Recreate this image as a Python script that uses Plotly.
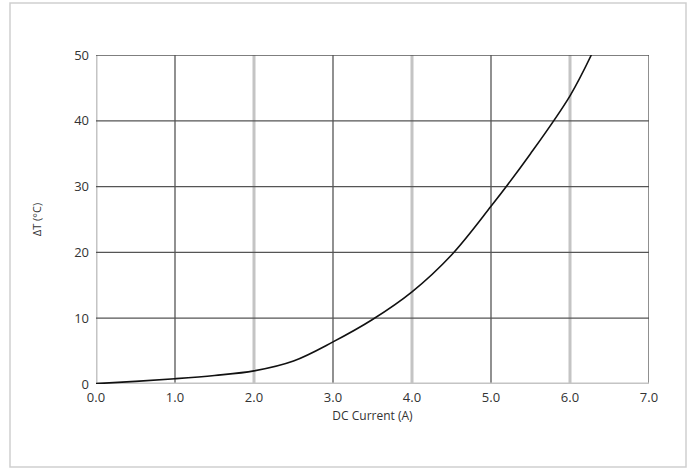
import plotly.graph_objects as go

current_a = [0.0, 0.5, 1.0, 1.5, 2.0, 2.5, 3.0, 3.5, 4.0, 4.5, 5.0, 5.5, 6.0, 6.27]
delta_t = [0.05, 0.4, 0.8, 1.3, 2.0, 3.5, 6.4, 9.8, 14.0, 19.6, 27.0, 35.0, 43.8, 50.0]

x_ticks = [0, 1, 2, 3, 4, 5, 6, 7]
y_ticks = [0, 10, 20, 30, 40, 50]
x_title = "DC Current (A)"
y_title = "ΔT (°C)"

fig = go.Figure()
fig.add_trace(go.Scatter(x=current_a, y=delta_t, mode="lines",
                         line=dict(color="#111111", width=1.6, shape="spline", smoothing=1.0),
                         hoverinfo="skip", showlegend=False))

shapes = []
for v in x_ticks:
    if v % 2 == 0:
        shapes.append(dict(type="line", xref="x", yref="y", x0=v, x1=v, y0=0, y1=50,
                           line=dict(color="#c4c4c4", width=3), layer="below"))
    else:
        shapes.append(dict(type="line", xref="x", yref="y", x0=v, x1=v, y0=0, y1=50,
                           line=dict(color="#555555", width=1.3), layer="below"))
for v in y_ticks:
    if v == 0:
        shapes.append(dict(type="line", xref="x", yref="y", x0=0, x1=7, y0=v, y1=v,
                           line=dict(color="#c4c4c4", width=3), layer="below"))
    else:
        shapes.append(dict(type="line", xref="x", yref="y", x0=0, x1=7, y0=v, y1=v,
                           line=dict(color="#555555", width=1.3), layer="below"))
shapes.append(dict(type="rect", xref="paper", yref="paper",
                   x0=(10 - 96) / 553, x1=(686 - 96) / 553,
                   y0=(384 - 467) / 329, y1=(384 - 3) / 329,
                   line=dict(color="#cfcfcf", width=1.5), fillcolor="rgba(0,0,0,0)", layer="below"))

font = dict(family="Open Sans", size=13, color="#333333")

fig.update_layout(
    width=696, height=470,
    margin=dict(l=96, r=47, t=55, b=86),
    paper_bgcolor="white", plot_bgcolor="white",
    shapes=shapes,
    font=font,
    xaxis=dict(range=[0, 7], tickvals=x_ticks, tickformat=".1f", showgrid=False,
               zeroline=False, showline=False, ticks="", ticklen=0, ticklabelstandoff=4,
               title=dict(text=x_title, standoff=6, font=dict(family="Open Sans", size=12, color="#333333")),
               tickfont=font, fixedrange=True),
    yaxis=dict(range=[0, 50], tickvals=y_ticks, showgrid=False, zeroline=False,
               showline=False, ticks="", ticklen=0, ticklabelstandoff=6,
               title=dict(text=y_title, standoff=30, font=dict(family="Open Sans", size=11, color="#333333")),
               tickfont=font, fixedrange=True),
)

fig.write_html("out.html", config={"displayModeBar": False},
               post_script="document.body.style.margin='0';document.body.style.overflow='hidden';")
